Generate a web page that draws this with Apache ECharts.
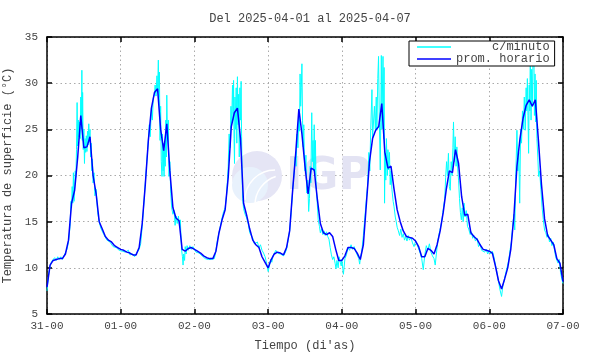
<!DOCTYPE html>
<html>
<head>
<meta charset="utf-8">
<script src="https://cdn.jsdelivr.net/npm/echarts@6/dist/echarts.min.js"></script>
<style>
  html, body { margin: 0; padding: 0; background: #fff; }
  #temps { width: 590px; height: 354px; }
</style>
</head>
<body>
<div id="temps"></div>
<script>
const tickLabels = ['31-00', '01-00', '02-00', '03-00', '04-00', '05-00', '06-00', '07-00'];

// hourly average, one value per hour from 31-00 to 07-00
const hourlyTemps = [
    7.9, 10.3, 10.8, 10.9, 11.0, 11.0, 11.5, 13.0, 17.0, 18.4, 22.0, 26.5, 23.0, 23.1, 24.2, 20.0, 18.0, 15.0, 14.2, 13.4, 13.0, 12.8, 12.4, 12.2,
    12.0, 11.9, 11.7, 11.6, 11.4, 11.4, 12.2, 14.8, 19.0, 23.8, 27.3, 29.0, 29.4, 25.0, 22.7, 25.6, 20.5, 16.5, 15.4, 15.1, 12.0, 11.8, 12.1, 12.2,
    12.0, 11.8, 11.6, 11.3, 11.1, 11.0, 11.0, 11.8, 13.8, 15.2, 16.3, 19.8, 25.3, 26.8, 27.3, 24.0, 17.0, 15.7, 14.2, 13.0, 12.5, 12.2, 11.2, 10.6,
    10.0, 10.9, 11.5, 11.7, 11.6, 11.4, 12.2, 14.0, 18.5, 22.5, 27.2, 24.5, 21.0, 18.0, 20.8, 20.6, 17.5, 14.8, 13.8, 13.6, 13.8, 13.4, 12.0, 10.8,
    10.8, 11.3, 12.2, 12.2, 12.1, 11.6, 10.9, 12.5, 17.0, 21.5, 24.0, 24.9, 25.3, 27.8, 22.5, 20.8, 21.0, 18.5, 16.3, 15.0, 14.0, 13.4, 13.3, 13.2,
    12.9, 12.3, 11.2, 11.2, 12.1, 11.9, 11.5, 12.5, 14.0, 16.0, 18.5, 20.5, 20.3, 22.8, 21.3, 17.7, 15.7, 15.8, 13.8, 13.4, 13.1, 12.5, 12.0, 11.9,
    11.8, 11.6, 10.2, 8.6, 7.7, 8.8, 10.0, 12.0, 15.5, 21.0, 24.0, 26.2, 27.6, 28.2, 27.5, 28.2, 23.8, 19.0, 15.3, 13.5, 13.0, 12.5, 11.0, 10.5, 8.5
];

// per-minute readings, [hour of day, temp] for each day
const minuteDay1 = [[0,7.5],[0.5,9.2],[1,10.2],[1.5,10.7],[2,10.6],[2.5,11.1],[3,10.8],[3.5,11.2],[4,10.9],[4.5,11.2],[5,10.9],[5.5,11.3],[6,11.4],[6.5,12.0],[7,12.8],[7.5,14.5],[7.8,17.2],[8,16.5],[8.2,18.8],[8.4,17.0],[8.6,20.3],[8.8,17.2],[9,18.8],[9.2,20.5],[9.4,19.8],[9.6,22.8],[9.8,27.9],[10,23.2],[10.2,26.0],[10.4,24.2],[10.6,25.8],[10.8,24.0],[11,28.5],[11.2,25.0],[11.35,31.4],[11.5,23.8],[11.6,29.0],[11.8,22.8],[12,25.0],[12.2,21.3],[12.4,24.0],[12.6,22.5],[12.8,24.3],[13,22.6],[13.2,24.8],[13.4,23.3],[13.6,25.6],[13.8,23.6],[14,25.0],[14.2,22.0],[14.4,23.5],[14.6,20.5],[14.8,21.8],[15,19.2],[15.3,20.3],[15.6,17.8],[16,18.5],[16.5,16.0],[17,15.0],[17.5,14.3],[18,14.4],[18.5,13.6],[19,13.5],[19.5,13.0],[20,13.2],[20.5,12.8],[21,12.7],[21.5,12.3],[22,12.5],[22.5,12.2],[23,12.3],[23.5,11.9]];
const minuteDay2 = [[0,12.1],[0.5,11.8],[1,12.0],[1.5,11.7],[2,11.6],[2.5,11.9],[3,11.4],[3.5,11.2],[4,11.5],[4.5,11.2],[5,11.5],[5.5,11.3],[6,12.0],[6.5,12.6],[7,14.5],[7.5,16.8],[8,19.2],[8.5,21.5],[9,23.8],[9.3,25.5],[9.6,24.2],[10,27.3],[10.3,26.0],[10.6,28.4],[11,28.8],[11.2,29.8],[11.5,28.6],[11.8,30.8],[12,29.0],[12.25,32.5],[12.4,28.5],[12.6,31.2],[12.8,23.8],[13,27.5],[13.2,21.5],[13.45,19.9],[13.6,24.5],[13.8,20.5],[14,23.5],[14.1,19.9],[14.3,22.8],[14.5,21.0],[14.7,26.0],[14.85,22.0],[15,28.7],[15.2,24.5],[15.5,26.0],[15.7,19.9],[16,21.5],[16.3,18.0],[16.6,16.5],[17,15.8],[17.4,16.2],[17.7,14.6],[18,15.6],[18.4,14.8],[18.8,15.6],[19.1,14.6],[19.4,15.2],[19.8,12.0],[20.1,11.2],[20.3,10.3],[20.5,11.5],[20.8,10.8],[21,12.3],[21.3,11.5],[21.6,12.4],[22,11.9],[22.5,12.4],[23,12.0],[23.5,12.3]];
const minuteDay3 = [[0,12.0],[0.5,11.7],[1,11.9],[1.5,11.6],[2,11.8],[2.5,11.3],[3,11.4],[3.5,11.0],[4,11.2],[4.5,10.9],[5,11.1],[5.5,10.9],[6,11.1],[6.5,11.0],[7,11.9],[7.5,13.0],[8,13.8],[8.5,14.6],[9,15.4],[9.5,16.1],[10,16.5],[10.5,18.0],[11,21.0],[11.3,24.5],[11.6,23.0],[11.9,27.5],[12.1,25.2],[12.4,29.8],[12.6,26.0],[12.75,30.3],[12.9,24.0],[13.05,21.3],[13.2,28.5],[13.4,25.0],[13.6,29.5],[13.8,23.5],[14,30.7],[14.2,25.5],[14.4,28.8],[14.6,22.0],[14.8,29.5],[15,26.0],[15.2,30.2],[15.35,24.5],[15.5,20.5],[15.7,17.5],[16,16.4],[16.5,15.8],[17,15.4],[17.5,14.8],[18,13.8],[18.5,13.5],[19,13.2],[19.5,12.6],[20,12.4],[20.5,12.8],[21,12.2],[21.5,12.5],[22,11.9],[22.5,11.6],[23,11.2],[23.5,10.5]];
const minuteDay4 = [[0,9.6],[0.4,10.2],[0.8,10.9],[1.2,10.6],[1.6,11.3],[2,11.5],[2.5,11.9],[3,11.6],[3.5,11.8],[4,11.5],[4.5,11.7],[5,11.3],[5.5,11.6],[6,12.0],[6.5,13.0],[7,14.0],[7.5,16.0],[8,18.5],[8.5,20.5],[8.8,22.0],[9.1,21.0],[9.4,24.5],[9.7,23.0],[10,26.5],[10.2,24.8],[10.4,31.0],[10.6,27.5],[10.8,29.5],[11,32.1],[11.2,26.0],[11.4,23.1],[11.6,25.5],[11.8,22.0],[12,20.5],[12.3,22.2],[12.6,18.1],[12.9,19.5],[13.2,16.1],[13.45,17.5],[13.7,21.0],[13.9,19.2],[14.2,26.8],[14.4,21.5],[14.6,23.8],[14.8,20.5],[15,25.5],[15.2,20.0],[15.4,23.8],[15.6,19.0],[15.9,17.5],[16.3,15.2],[16.7,14.5],[17,13.8],[17.4,14.2],[17.8,13.6],[18.2,14.0],[18.6,13.5],[19,13.9],[19.4,13.4],[19.8,13.1],[20.2,12.2],[20.6,11.4],[21,10.9],[21.4,11.2],[21.8,10.5],[22.1,9.9],[22.4,10.8],[22.8,10.0],[23.1,11.2],[23.5,10.6],[23.8,10.2]];
const minuteDay5 = [[0,10.9],[0.5,9.3],[1,11.0],[1.5,11.4],[2,12.2],[2.5,11.9],[3,12.5],[3.5,12.0],[4,12.3],[4.5,11.8],[5,11.9],[5.5,11.0],[5.8,10.4],[6.1,11.2],[6.5,11.8],[7,13.5],[7.5,15.5],[8,17.5],[8.4,19.0],[8.8,22.5],[9.1,20.5],[9.4,25.0],[9.8,29.3],[10,24.0],[10.3,23.8],[10.6,27.5],[10.9,25.0],[11.2,28.5],[11.4,24.9],[11.7,30.5],[11.95,32.9],[12.2,26.0],[12.5,20.6],[12.7,27.0],[12.85,33.0],[13.05,25.0],[13.25,30.0],[13.4,32.9],[13.6,24.0],[13.75,31.7],[13.9,17.0],[14.1,22.5],[14.3,19.5],[14.5,24.0],[14.8,20.0],[15,22.8],[15.2,20.6],[15.5,22.5],[15.75,19.0],[16,20.5],[16.3,18.5],[16.7,17.2],[17,16.6],[17.4,15.5],[17.7,15.0],[18,14.4],[18.4,14.0],[18.8,13.5],[19.2,14.2],[19.6,13.3],[20,13.7],[20.4,13.0],[20.8,13.4],[21.2,12.9],[21.6,13.5],[22,13.0],[22.5,13.3],[23,12.7],[23.5,12.3]];
const minuteDay6 = [[0,12.9],[0.5,12.5],[1,12.6],[1.5,11.6],[2,11.0],[2.5,9.8],[3,11.4],[3.5,12.4],[4,11.9],[4.5,12.6],[5,11.7],[5.5,11.3],[6,11.0],[6.4,10.3],[6.8,11.6],[7.2,12.8],[7.6,13.6],[8,14.2],[8.5,15.0],[9,16.3],[9.5,17.5],[9.8,19.8],[10.1,21.5],[10.4,20.0],[10.7,22.4],[11,18.8],[11.3,18.4],[11.6,21.5],[11.9,20.0],[12.15,23.0],[12.35,25.8],[12.6,21.5],[12.9,24.2],[13.2,21.0],[13.45,23.1],[13.7,20.8],[14,19.5],[14.3,17.5],[14.6,16.0],[14.9,15.2],[15.2,16.5],[15.5,15.0],[15.8,17.0],[16.1,15.5],[16.5,16.2],[16.9,14.5],[17.3,14.2],[17.8,13.6],[18.2,13.9],[18.6,13.2],[19,13.5],[19.5,12.9],[20,13.2],[20.5,12.3],[21,12.6],[21.5,11.9],[22,12.1],[22.5,11.7],[23,12.0],[23.5,11.5]];
const minuteDay7 = [[0,11.9],[0.5,11.5],[1,11.8],[1.5,11.2],[2,10.3],[2.5,9.5],[3,8.5],[3.5,7.6],[4,6.9],[4.4,8.0],[4.8,8.6],[5.2,9.2],[5.6,9.8],[6,10.3],[6.4,11.0],[6.8,12.0],[7.2,12.8],[7.6,14.5],[8,15.8],[8.3,14.1],[8.6,19.5],[9,24.9],[9.3,20.5],[9.6,22.5],[9.9,17.0],[10.2,25.0],[10.5,23.5],[10.8,27.0],[11.1,25.0],[11.4,28.5],[11.7,24.9],[12,29.5],[12.2,27.0],[12.4,30.5],[12.6,26.5],[12.8,22.4],[13,29.8],[13.2,27.0],[13.35,34.1],[13.6,26.0],[13.8,31.5],[14,27.5],[14.25,33.0],[14.5,34.5],[14.7,26.5],[14.9,31.0],[15.1,25.8],[15.3,30.3],[15.5,24.0],[15.8,22.0],[16.05,19.9],[16.4,20.5],[16.8,18.5],[17.2,16.5],[17.6,15.2],[18,14.1],[18.4,13.8],[18.8,13.3],[19.2,13.6],[19.6,12.8],[20,13.2],[20.4,12.4],[20.8,12.8],[21.2,12.0],[21.6,11.2],[22,10.8],[22.4,10.5],[22.8,10.9],[23.2,9.5],[23.6,8.8],[24,8.3]];

const minuteDays = [minuteDay1, minuteDay2, minuteDay3, minuteDay4, minuteDay5, minuteDay6, minuteDay7];

const font = 'Liberation Mono';
const textColor = '#444';

const minuteData = [];
minuteDays.forEach(function (day, i) {
    day.forEach(function (p) {
        minuteData.push([i * 24 + p[0], p[1]]);
    });
});
const hourlyData = hourlyTemps.map(function (v, h) { return [h, v]; });

const dom = document.getElementById('temps');
const myChart = echarts.init(dom, null, { renderer: 'canvas' });

const gridLine = { show: true, lineStyle: { color: '#aaa', type: [1.5, 3], width: 1 } };
const frame = { show: true, onZero: false, lineStyle: { color: '#000', width: 1.5 } };
const inTick = { show: true, inside: true, length: 5, lineStyle: { color: '#000', width: 1.5 } };

const option = {
    animation: false,
    title: {
        text: 'Del 2025-04-01 al 2025-04-07',
        left: 305,
        textAlign: 'center',
        top: 8,
        textStyle: { fontFamily: font, fontSize: 12, fontWeight: 'normal', color: textColor }
    },
    legend: {
        data: [
            { name: 'c/minuto', icon: 'rect', itemStyle: { color: '#00ffff' } },
            { name: 'prom. horario', icon: 'rect', itemStyle: { color: '#0000ff' } }
        ],
        orient: 'vertical',
        left: 409,
        top: 41,
        itemWidth: 34,
        itemHeight: 1.5,
        itemGap: 0,
        padding: [0, 5, 1, 8],
        borderColor: '#000',
        borderWidth: 1,
        borderRadius: 0,
        backgroundColor: '#fff',
        formatter: function (name) { return name.padStart(13, ' '); },
        textStyle: { fontFamily: font, fontSize: 12, lineHeight: 12, color: textColor }
    },
    grid: { left: 47, right: 27, top: 37, bottom: 40, outerBoundsMode: 'none' },
    graphic: [
        { type: 'circle', z: 1, silent: true, shape: { cx: 257, cy: 176, r: 25 }, style: { fill: '#e5e5f5' } },
        { type: 'circle', z: 1, silent: true, shape: { cx: 250, cy: 185, r: 18 }, style: { fill: '#e8f1fc' } },
        { type: 'arc', z: 1, silent: true, shape: { cx: 275, cy: 200, r: 30, startAngle: Math.PI, endAngle: Math.PI * 1.5 }, style: { stroke: '#fff', lineWidth: 1.5, fill: null } },
        { type: 'arc', z: 1, silent: true, shape: { cx: 285, cy: 205, r: 30, startAngle: Math.PI, endAngle: Math.PI * 1.4 }, style: { stroke: '#fff', lineWidth: 1.5, fill: null } },
        { type: 'text', z: 1, silent: true, left: 286, top: 156, style: { text: 'IGP', fontSize: 44, fontWeight: 'bold', fontFamily: 'DejaVu Sans', fill: '#e3e3f3' } }
    ],
    xAxis: [{
        type: 'value',
        min: 0,
        max: 168,
        interval: 24,
        name: 'Tiempo (di\'as)',
        nameLocation: 'middle',
        nameGap: 26,
        nameTextStyle: { fontFamily: font, fontSize: 12, color: textColor },
        axisLine: frame,
        axisTick: inTick,
        splitLine: gridLine,
        axisLabel: {
            fontFamily: font, fontSize: 11, color: textColor, margin: 7,
            formatter: function (v) { return tickLabels[Math.round(v / 24)]; }
        }
    }, {
        type: 'value',
        position: 'top',
        min: 0,
        max: 168,
        interval: 24,
        axisLine: frame,
        axisTick: inTick,
        splitLine: { show: false },
        axisLabel: { show: false }
    }],
    yAxis: [{
        type: 'value',
        min: 5,
        max: 35,
        interval: 5,
        name: 'Temperatura de superficie (°C)',
        nameLocation: 'middle',
        nameRotate: 90,
        nameGap: 25,
        nameTextStyle: { fontFamily: font, fontSize: 12, color: textColor },
        axisLine: frame,
        axisTick: inTick,
        splitLine: gridLine,
        axisLabel: { fontFamily: font, fontSize: 11, color: textColor, margin: 9 }
    }, {
        type: 'value',
        position: 'right',
        min: 5,
        max: 35,
        interval: 5,
        axisLine: frame,
        axisTick: inTick,
        splitLine: { show: false },
        axisLabel: { show: false }
    }],
    series: [{
        name: 'c/minuto',
        type: 'line',
        data: minuteData,
        showSymbol: false,
        symbol: 'none',
        z: 3,
        color: '#00ffff',
        lineStyle: { color: '#00ffff', width: 1 }
    }, {
        name: 'prom. horario',
        type: 'line',
        data: hourlyData,
        showSymbol: false,
        symbol: 'none',
        z: 4,
        color: '#0000ff',
        lineStyle: { color: '#0000ff', width: 1.5 }
    }]
};

if (option && typeof option === 'object') {
    myChart.setOption(option, true);
}
</script>
</body>
</html>
